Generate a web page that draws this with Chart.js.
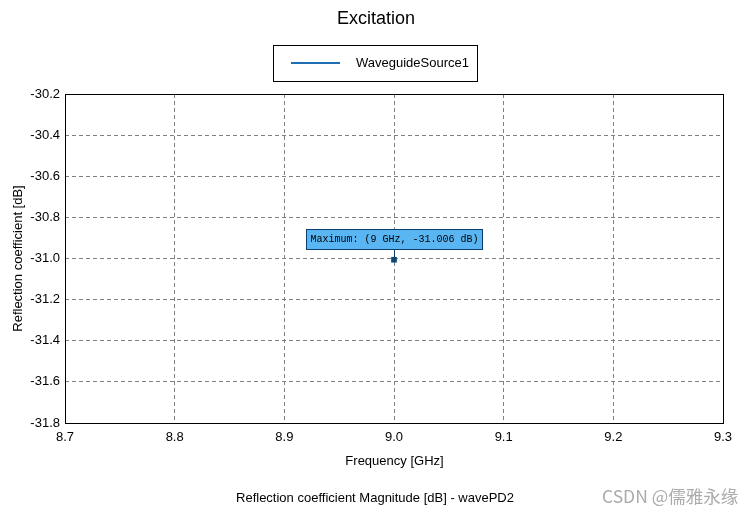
<!DOCTYPE html>
<html><head><meta charset="utf-8">
<script src="https://cdn.jsdelivr.net/npm/chart.js@4"></script>
<style>
html,body{margin:0;padding:0;background:#fff;}
#wrap{position:relative;width:755px;height:512px;}
#wm{position:absolute;left:602px;top:484px;font:17.5px "Noto Sans CJK SC","Noto Sans",sans-serif;line-height:24px;color:#ababab;white-space:nowrap;}
</style></head>
<body><div id="wrap"><canvas id="c" width="755" height="512"></canvas><div id="wm">CSDN @儒雅永缘</div></div>
<script>
const seriesName = "WaveguideSource1";
const freqGHz = [9.0];
const reflDb = [-31.006];
const xTicks = [8.7, 8.8, 8.9, 9.0, 9.1, 9.2, 9.3];
const yTicks = [-30.2, -30.4, -30.6, -30.8, -31.0, -31.2, -31.4, -31.6, -31.8];
const titleText = "Excitation";
const xTitle = "Frequency [GHz]";
const yTitle = "Reflection coefficient [dB]";
const caption = "Reflection coefficient Magnitude [dB] - wavePD2";
const markerLabel = "Maximum: (9 GHz, -31.006 dB)";

const lineColor = "#1f6db3";
const font = '"Liberation Sans", Arial, sans-serif';

const overlay = {
  id: 'overlay',
  afterDraw(chart) {
    const ctx = chart.ctx, a = chart.chartArea;
    ctx.save();
    ctx.strokeStyle = '#000'; ctx.lineWidth = 1;
    ctx.strokeRect(a.left + 0.5, a.top + 0.5, a.right - a.left, a.bottom - a.top);
    ctx.fillStyle = '#000'; ctx.textAlign = 'center'; ctx.textBaseline = 'middle';
    ctx.font = '18px ' + font;
    ctx.fillText(titleText, 376, 19);
    ctx.strokeStyle = '#000'; ctx.lineWidth = 1;
    ctx.strokeRect(273.5, 45.5, 204, 36);
    ctx.strokeStyle = lineColor; ctx.lineWidth = 2;
    ctx.beginPath(); ctx.moveTo(291, 63); ctx.lineTo(340, 63); ctx.stroke();
    ctx.fillStyle = '#000'; ctx.textAlign = 'left'; ctx.font = '13px ' + font;
    ctx.fillText(seriesName, 356, 63);
    ctx.textAlign = 'center';
    ctx.fillText(xTitle, (a.left + a.right) / 2 + 0.5, 461);
    ctx.fillText(caption, 375, 498);
    ctx.save();
    ctx.translate(18, (a.top + a.bottom) / 2);
    ctx.rotate(-Math.PI / 2);
    ctx.fillText(yTitle, 0, 0);
    ctx.restore();
    const xs = chart.scales.x, ys = chart.scales.y;
    const px = Math.round(xs.getPixelForValue(freqGHz[0])) + 0.5;
    const py = ys.getPixelForValue(reflDb[0]);
    ctx.strokeStyle = '#0b3e6b'; ctx.lineWidth = 1;
    ctx.beginPath(); ctx.moveTo(px, 249); ctx.lineTo(px, py); ctx.stroke();
    ctx.fillStyle = '#5ab6f2';
    ctx.fillRect(306.5, 229.5, 176, 20);
    ctx.strokeStyle = '#0b3e6b';
    ctx.strokeRect(306.5, 229.5, 176, 20);
    ctx.fillStyle = '#000'; ctx.textAlign = 'center';
    ctx.font = '10px "Liberation Mono", "DejaVu Sans Mono", monospace';
    ctx.fillText(markerLabel, 394.5, 239.5);
    ctx.restore();
  }
};

new Chart(document.getElementById('c'), {
  type: 'scatter',
  data: {
    datasets: [{
      label: seriesName,
      data: freqGHz.map((f, i) => ({x: f, y: reflDb[i]})),
      showLine: true,
      borderColor: lineColor,
      borderWidth: 2,
      pointStyle: 'rect',
      pointRadius: 4,
      pointBackgroundColor: '#0b4677',
      pointBorderColor: '#0b4677',
      pointBorderWidth: 0
    }]
  },
  options: {
    responsive: false,
    animation: false,
    layout: {padding: {top: 94, right: 32, bottom: 0, left: 0}},
    plugins: {legend: {display: false}, title: {display: false}, tooltip: {enabled: false}},
    scales: {
      x: {
        type: 'linear', min: 8.7, max: 9.3,
        afterBuildTicks(s) { s.ticks = xTicks.map(v => ({value: v})); },
        afterFit(s) { s.height = 89; },
        ticks: {color: '#000', font: {family: font, size: 13}, padding: 7,
          callback: v => v.toFixed(1), maxRotation: 0, autoSkip: false},
        grid: {color: '#808080', lineWidth: 1, drawTicks: false, tickLength: 0},
        border: {display: false, dash: [4, 3]}
      },
      y: {
        type: 'linear', min: -31.8, max: -30.2,
        afterBuildTicks(s) { s.ticks = yTicks.map(v => ({value: v})); },
        afterFit(s) { s.width = 65; },
        ticks: {color: '#000', font: {family: font, size: 13}, padding: 5,
          callback: v => v.toFixed(1), autoSkip: false},
        grid: {color: '#808080', lineWidth: 1, drawTicks: false, tickLength: 0},
        border: {display: false, dash: [4, 3]}
      }
    }
  },
  plugins: [overlay]
});
</script></body></html>
